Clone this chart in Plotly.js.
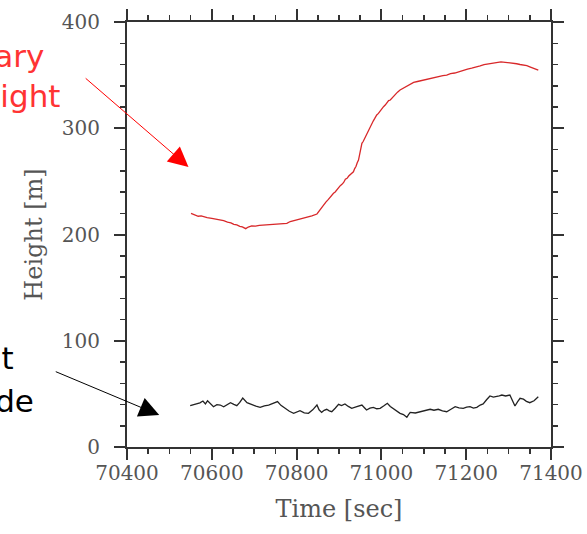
<!DOCTYPE html>
<html>
<head>
<meta charset="utf-8">
<script src="https://cdn.plot.ly/plotly-3.0.1.min.js"></script>
<style>html,body{margin:0;padding:0;background:#fff;}#chart{width:587px;height:534px;}</style>
</head>
<body>
<div id="chart"></div>
<script>
// Boundary layer height (red)
var blhTime = [70551, 70556, 70561, 70568, 70575, 70582, 70589, 70600, 70610, 70620, 70628, 70637, 70645, 70652, 70659, 70666, 70672, 70680, 70686, 70694, 70703, 70712, 70721, 70730, 70742, 70755, 70766, 70777, 70785, 70793, 70801, 70810, 70817, 70824, 70836, 70848, 70852, 70856, 70860, 70863, 70869, 70875, 70881, 70887, 70891, 70895, 70899, 70903, 70907, 70911, 70915, 70919, 70923, 70927, 70931, 70934, 70937, 70940, 70943, 70946, 70948, 70950, 70952, 70954, 70957, 70960, 70963, 70966, 70969, 70972, 70975, 70978, 70981, 70984, 70987, 70989, 70993, 70997, 71001, 71005, 71009, 71013, 71017, 71021, 71027, 71032, 71038, 71044, 71052, 71060, 71068, 71076, 71085, 71095, 71105, 71115, 71125, 71135, 71145, 71154, 71163, 71173, 71183, 71193, 71203, 71213, 71223, 71233, 71242, 71252, 71262, 71272, 71282, 71292, 71301, 71311, 71319, 71327, 71335, 71343, 71350, 71357, 71364, 71370];
var blhVal  = [219.9, 219.0, 218.6, 217.2, 217.5, 216.3, 215.8, 215.2, 214.5, 213.2, 213.0, 211.6, 211.0, 209.5, 209.0, 207.6, 207.2, 205.5, 207.0, 208.0, 207.8, 208.6, 208.9, 209.6, 209.5, 210.0, 210.2, 210.5, 212.2, 213.0, 213.4, 214.5, 215.6, 216.2, 217.5, 219.3, 221.5, 223.5, 226.0, 227.8, 230.5, 233.0, 236.5, 238.8, 240.0, 242.0, 245.0, 246.0, 247.2, 249.0, 252.0, 252.9, 255.0, 256.5, 258.5, 259.0, 262.0, 264.0, 267.5, 270.0, 274.0, 278.0, 282.0, 285.8, 287.5, 290.0, 293.0, 295.2, 297.0, 300.0, 303.5, 304.7, 307.0, 309.0, 311.5, 312.5, 314.0, 316.0, 319.0, 320.3, 321.8, 323.5, 326.0, 326.6, 329.5, 331.0, 334.0, 336.0, 338.0, 340.0, 342.0, 343.2, 344.0, 345.0, 346.2, 347.0, 348.0, 348.5, 349.6, 350.1, 351.5, 352.0, 353.4, 354.2, 355.6, 356.5, 357.3, 358.6, 359.8, 360.5, 361.6, 362.0, 362.4, 362.0, 361.8, 361.0, 360.7, 360.0, 359.6, 358.9, 357.8, 357.0, 355.8, 354.8];

// Flight altitude (black)
var altTime = [70549, 70557, 70564, 70572, 70579, 70585, 70590, 70597, 70604, 70612, 70620, 70628, 70636, 70644, 70652, 70659, 70666, 70673, 70683, 70689, 70695, 70704, 70714, 70724, 70734, 70745, 70755, 70763, 70773, 70783, 70793, 70800, 70808, 70818, 70828, 70838, 70848, 70853, 70859, 70865, 70871, 70877, 70883, 70891, 70899, 70906, 70914, 70922, 70930, 70942, 70954, 70960, 70965, 70973, 70981, 70989, 70997, 71006, 71014, 71021, 71028, 71036, 71044, 71052, 71060, 71064, 71068, 71080, 71091, 71103, 71115, 71124, 71134, 71144, 71154, 71164, 71174, 71183, 71193, 71201, 71209, 71217, 71225, 71233, 71240, 71248, 71256, 71264, 71272, 71278, 71284, 71293, 71303, 71309, 71315, 71321, 71327, 71335, 71342, 71350, 71360, 71370];
var altVal  = [38.9, 39.8, 40.5, 41.5, 43.3, 40.5, 43.6, 40.2, 37.9, 39.9, 39.5, 37.9, 40.0, 41.7, 40.1, 38.9, 42.0, 46.1, 41.7, 40.6, 39.5, 38.5, 37.3, 38.8, 39.5, 41.2, 42.7, 39.2, 36.4, 33.6, 31.7, 33.0, 34.2, 32.1, 31.7, 35.0, 39.5, 35.0, 32.6, 34.5, 35.5, 34.0, 33.2, 36.5, 40.2, 39.0, 40.5, 38.2, 36.4, 38.0, 39.5, 37.0, 34.8, 36.5, 37.3, 36.0, 36.4, 38.8, 41.1, 38.2, 36.4, 34.0, 31.7, 30.5, 27.9, 30.5, 32.6, 32.0, 33.2, 34.8, 35.5, 34.6, 35.5, 34.0, 33.2, 35.5, 37.9, 36.8, 36.4, 37.5, 37.9, 36.6, 37.3, 39.5, 40.5, 44.5, 48.0, 47.0, 47.3, 48.2, 48.9, 48.0, 48.9, 44.0, 38.6, 42.5, 45.8, 45.0, 43.0, 41.7, 43.5, 47.3];

var xTickVals = [70400, 70600, 70800, 71000, 71200, 71400];
var yTickVals = [0, 100, 200, 300, 400];

var tickFont = {family: 'DejaVu Serif', size: 20, color: '#555555'};
var titleFont = {family: 'DejaVu Serif', size: 24, color: '#555555'};
var labelFontRed = {family: 'DejaVu Sans', size: 31, color: '#ff3333'};
var labelFontBlack = {family: 'DejaVu Sans', size: 31, color: '#000000'};

var traces = [
  {x: blhTime, y: blhVal, type: 'scatter', mode: 'lines', line: {color: '#d8282a', width: 1.3}, hoverinfo: 'skip'},
  {x: altTime, y: altVal, type: 'scatter', mode: 'lines', line: {color: '#222222', width: 1.3}, hoverinfo: 'skip'}
];

var axisCommon = {
  showgrid: false, zeroline: false, showline: true, linecolor: '#333333', linewidth: 2,
  mirror: 'allticks', ticks: 'outside', ticklen: 11, tickwidth: 2, tickcolor: '#333333',
  tickfont: tickFont
};

var layout = {
  width: 587, height: 534,
  margin: {l: 127, r: 36, t: 22, b: 87},
  paper_bgcolor: '#ffffff', plot_bgcolor: '#ffffff',
  showlegend: false,
  xaxis: Object.assign({}, axisCommon, {
    range: [70400, 71400], tickvals: xTickVals, ticktext: xTickVals.map(String),
    minor: {ticks: 'outside', ticklen: 5, tickwidth: 1.5, tickcolor: '#333333', dtick: 50, tick0: 70400},
    ticklabelstandoff: -4,
    title: {text: 'Time [sec]', font: titleFont, standoff: 16}
  }),
  yaxis: Object.assign({}, axisCommon, {
    range: [0, 400], tickvals: yTickVals, ticktext: yTickVals.map(String),
    minor: {ticks: 'outside', ticklen: 5, tickwidth: 1.5, tickcolor: '#333333', dtick: 20, tick0: 0},
    ticklabelstandoff: 10,
    title: {text: 'Height [m]', font: titleFont, standoff: 12}
  }),
  annotations: [
    {xref: 'paper', yref: 'paper', x: -0.192, y: 0.919, xanchor: 'right', yanchor: 'middle', text: 'Boundary', showarrow: false, font: labelFontRed},
    {xref: 'paper', yref: 'paper', x: -0.153, y: 0.825, xanchor: 'right', yanchor: 'middle', text: 'layer height', showarrow: false, font: labelFontRed},
    {xref: 'paper', yref: 'paper', x: -0.261, y: 0.21, xanchor: 'right', yanchor: 'middle', text: 'Flight', showarrow: false, font: labelFontBlack},
    {xref: 'paper', yref: 'paper', x: -0.214, y: 0.108, xanchor: 'right', yanchor: 'middle', text: 'altitude', showarrow: false, font: labelFontBlack},
    {xref: 'x', yref: 'y', x: 70545, y: 263.5, axref: 'x', ayref: 'y', ax: 70299, ay: 348.2, text: '', showarrow: true, arrowhead: 2, arrowsize: 4, arrowwidth: 1, arrowcolor: '#ff0000'},
    {xref: 'x', yref: 'y', x: 70476, y: 30.1, axref: 'x', ayref: 'y', ax: 70228.5, ay: 71.5, text: '', showarrow: true, arrowhead: 2, arrowsize: 4, arrowwidth: 1, arrowcolor: '#000000'}
  ]
};

Plotly.newPlot('chart', traces, layout, {staticPlot: true, displayModeBar: false});
</script>
</body>
</html>
